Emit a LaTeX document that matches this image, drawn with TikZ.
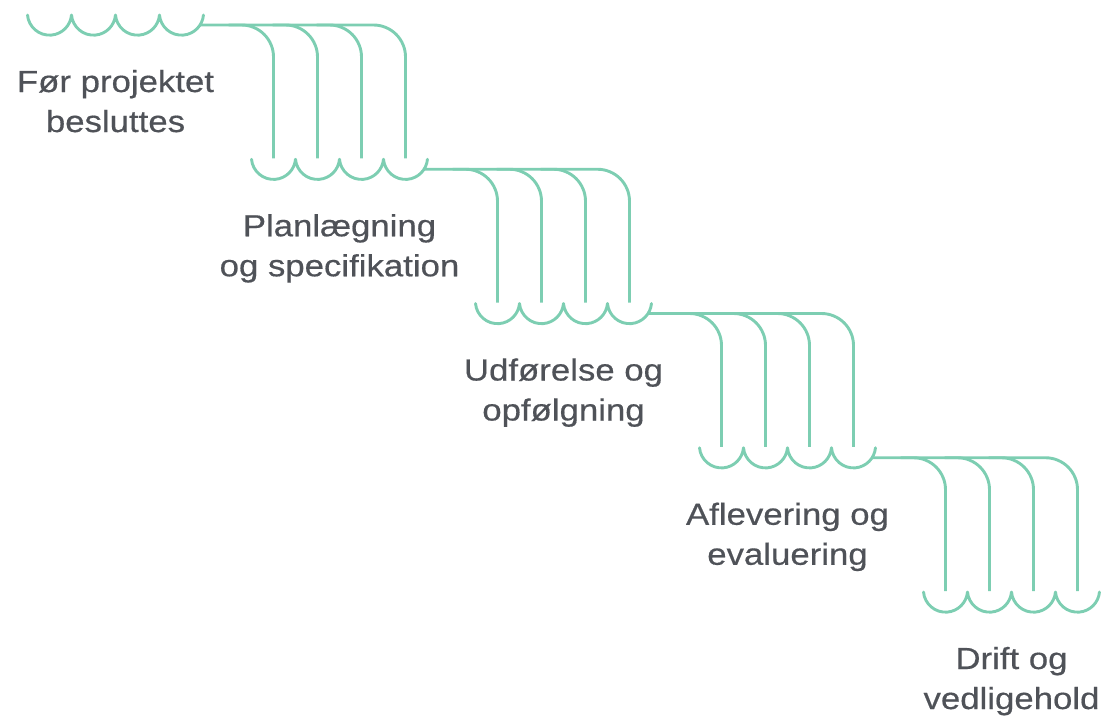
\documentclass[tikz,border=0pt]{standalone}
\usepackage{fontspec}
\setmainfont{Liberation Sans}[FakeStretch=1.14,FakeBold=0.5]
\definecolor{mint}{HTML}{7DCEB2}
\definecolor{labelgray}{HTML}{4F5258}
\begin{document}
\begin{tikzpicture}[x=1pt,y=1pt,
  wave/.style={draw=mint,line width=2.9pt,line cap=round,line join=round},
  flow/.style={draw=mint,line width=2.9pt,rounded corners=32pt},
  phase/.style={anchor=base,inner sep=0pt,text=labelgray,font=\fontsize{30.5}{40}\selectfont}]
\useasboundingbox (0,0) rectangle (1111,-718);
% stages: left end x0 and cusp level (top) of each scalloped row
\def\dx{224}\def\dy{144.25}
\foreach \i/\la/\lb in {0/Før projektet/besluttes,
                        1/Planlægning/og specifikation,
                        2/Udførelse og/opfølgning,
                        3/Aflevering og/evaluering,
                        4/Drift og/vedligehold}{
  \pgfmathsetmacro\xo{27.5+\dx*\i}
  \pgfmathsetmacro\yt{-(15+\dy*\i)}
  % four scallops
  \coordinate (row\i) at (\xo,\yt);
  \draw[wave] (row\i)
    arc[start angle=185,end angle=355,radius=22.08]
    arc[start angle=185,end angle=355,radius=22.08]
    arc[start angle=185,end angle=355,radius=22.08]
    arc[start angle=185,end angle=355,radius=22.08];
  % labels under the row
  \node[phase] (lab\i a) at (\xo+88,\yt-77) {\la};
  \node[phase] (lab\i b) at (\xo+88,\yt-117) {\lb};
}
% connectors from each row down into the next one
\foreach \i in {0,1,2,3}{
  \pgfmathsetmacro\xo{27.5+\dx*\i}
  \pgfmathsetmacro\yt{-(15+\dy*\i)}
  \pgfmathsetmacro\yh{\yt-10}
  \pgfmathsetmacro\yn{\yt-\dy+1}
  \coordinate (out\i) at (\xo+172.6,\yh);
  \foreach \k in {0,1,2}{
    \pgfmathsetmacro\xv{\xo+\dx+22+44*\k}
    \coordinate (top\i\k) at (\xv-45,\yh);
    \coordinate (bot\i\k) at (\xv,\yn);
    \draw[flow] (top\i\k) -- (top\i\k -| bot\i\k) -- (bot\i\k);
  }
  \pgfmathsetmacro\xv{\xo+\dx+22+44*3}
  \coordinate (bot\i3) at (\xv,\yn);
  \draw[flow] (out\i) -- (out\i -| bot\i3) -- (bot\i3);
}
\end{tikzpicture}
\end{document}
